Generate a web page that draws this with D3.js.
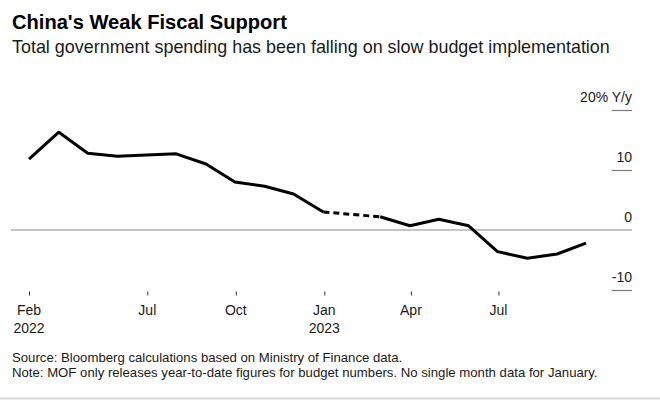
<!DOCTYPE html>
<html>
<head>
<meta charset="utf-8">
<script src="https://cdn.jsdelivr.net/npm/d3@7"></script>
<style>
  html, body { margin: 0; padding: 0; background: #fff; }
  svg { display: block; font-family: "Liberation Sans", Arial, Helvetica, sans-serif; }
</style>
</head>
<body>
<svg id="chart" width="660" height="400"></svg>
<script>
// ---- Data ----
const months = ["2022-02","2022-03","2022-04","2022-05","2022-06","2022-07","2022-08","2022-09","2022-10","2022-11","2022-12",
                "2023-02","2023-03","2023-04","2023-05","2023-06","2023-07","2023-08","2023-09"];
const spending = [11.8, 16.3, 12.8, 12.3, 12.5, 12.7, 11.0, 8.0, 7.3, 6.0, 3.0,
                  2.2, 0.7, 1.8, 0.7, -3.6, -4.7, -4.0, -2.2];
const xTickDates = ["2022-02","2022-07-01","2022-10-01","2023-01-01","2023-04-01","2023-07-01"];
const xTickLabels = [["Feb","2022"],["Jul"],["Oct"],["Jan","2023"],["Apr"],["Jul"]];
const yTicks = [-10, 0, 10, 20];
const yTickLabels = ["-10", "0", "10", "20% Y/y"];

const title = "China's Weak Fiscal Support";
const subtitle = "Total government spending has been falling on slow budget implementation";
const notes = ["Source: Bloomberg calculations based on Ministry of Finance data.",
               "Note: MOF only releases year-to-date figures for budget numbers. No single month data for January."];

// month-end date for "YYYY-MM"
function monthEnd(s) {
  const [y, m] = s.split("-").map(Number);
  return new Date(y, m, 0);
}
function tickDate(s) {
  return s.length === 7 ? monthEnd(s) : new Date(s + "T00:00:00");
}

const data = months.map((m, i) => ({ date: monthEnd(m), value: spending[i] }));

const svg = d3.select("#chart");

// ---- Scales ----
const x = d3.scaleTime()
  .domain([data[0].date, data[data.length - 1].date])
  .range([29, 586]);
const y = d3.scaleLinear().domain([-10, 20]).range([290, 110]);

function fitText(sel, target) {
  const fs = parseFloat(sel.attr("font-size"));
  const len = sel.node().getComputedTextLength();
  sel.attr("font-size", (fs * target / len).toFixed(2));
}

// ---- Title ----
const t1 = svg.append("text").attr("x", 12).attr("y", 29)
  .attr("font-size", 20).attr("font-weight", "bold").attr("fill", "#000")
  .text(title);
fitText(t1, 275);
const t2 = svg.append("text").attr("x", 12).attr("y", 53)
  .attr("font-size", 16).attr("fill", "#1a1a1a")
  .text(subtitle);
fitText(t2, 598);

// ---- Zero line ----
svg.append("line")
  .attr("x1", 11).attr("x2", 632)
  .attr("y1", y(0)).attr("y2", y(0))
  .attr("stroke", "#8a8a8a").attr("stroke-width", 1.2);

// ---- Y axis (right, ticks drawn as short lines under labels) ----
const yAxis = d3.axisRight(y)
  .tickValues(yTicks.filter(v => v !== 0))
  .tickSize(20)
  .tickFormat("");
const yg = svg.append("g").attr("transform", "translate(612,0)").call(yAxis);
yg.select(".domain").remove();
yg.selectAll(".tick line").attr("stroke", "#7a7a7a").attr("stroke-width", 1.2);

yTicks.forEach((v, i) => {
  svg.append("text")
    .attr("x", 632).attr("y", y(v) - 8)
    .attr("text-anchor", "end")
    .attr("font-size", 14).attr("fill", "#1a1a1a")
    .text(yTickLabels[i]);
});

// ---- X axis ----
const xDates = xTickDates.map(tickDate);
const xAxis = d3.axisBottom(x).tickValues(xDates).tickSize(4).tickFormat("");
const xg = svg.append("g").attr("transform", "translate(0,291.5)").call(xAxis);
xg.select(".domain").remove();
xg.selectAll(".tick line").attr("stroke", "#333").attr("stroke-width", 1);

xDates.forEach((d, i) => {
  xTickLabels[i].forEach((lab, j) => {
    svg.append("text")
      .attr("x", x(d)).attr("y", 314.5 + j * 18.5)
      .attr("text-anchor", "middle")
      .attr("font-size", 14).attr("fill", "#1a1a1a")
      .text(lab);
  });
});

// ---- Line ----
const line = d3.line().x(d => x(d.date)).y(d => y(d.value));
const gapIdx = months.indexOf("2022-12");
const seg1 = data.slice(0, gapIdx + 1);
const segGap = data.slice(gapIdx, gapIdx + 2);
const seg2 = data.slice(gapIdx + 1);

[seg1, seg2].forEach(seg => {
  svg.append("path").datum(seg).attr("d", line)
    .attr("fill", "none").attr("stroke", "#000")
    .attr("stroke-width", 3).attr("stroke-linejoin", "round");
});
svg.append("path").datum(segGap).attr("d", line)
  .attr("fill", "none").attr("stroke", "#000")
  .attr("stroke-width", 3).attr("stroke-dasharray", "6,4");

// ---- Notes ----
const noteTexts = notes.map((n, i) =>
  svg.append("text").attr("x", 12).attr("y", 362 + i * 15)
    .attr("font-size", 12.5).attr("fill", "#1a1a1a").text(n));
fitText(noteTexts[1], 586);
noteTexts[0].attr("font-size", noteTexts[1].attr("font-size"));

// bottom border
svg.append("line").attr("x1", 0).attr("x2", 660).attr("y1", 398.5).attr("y2", 398.5)
  .attr("stroke", "#d8d8d8").attr("stroke-width", 2);
</script>
</body>
</html>
